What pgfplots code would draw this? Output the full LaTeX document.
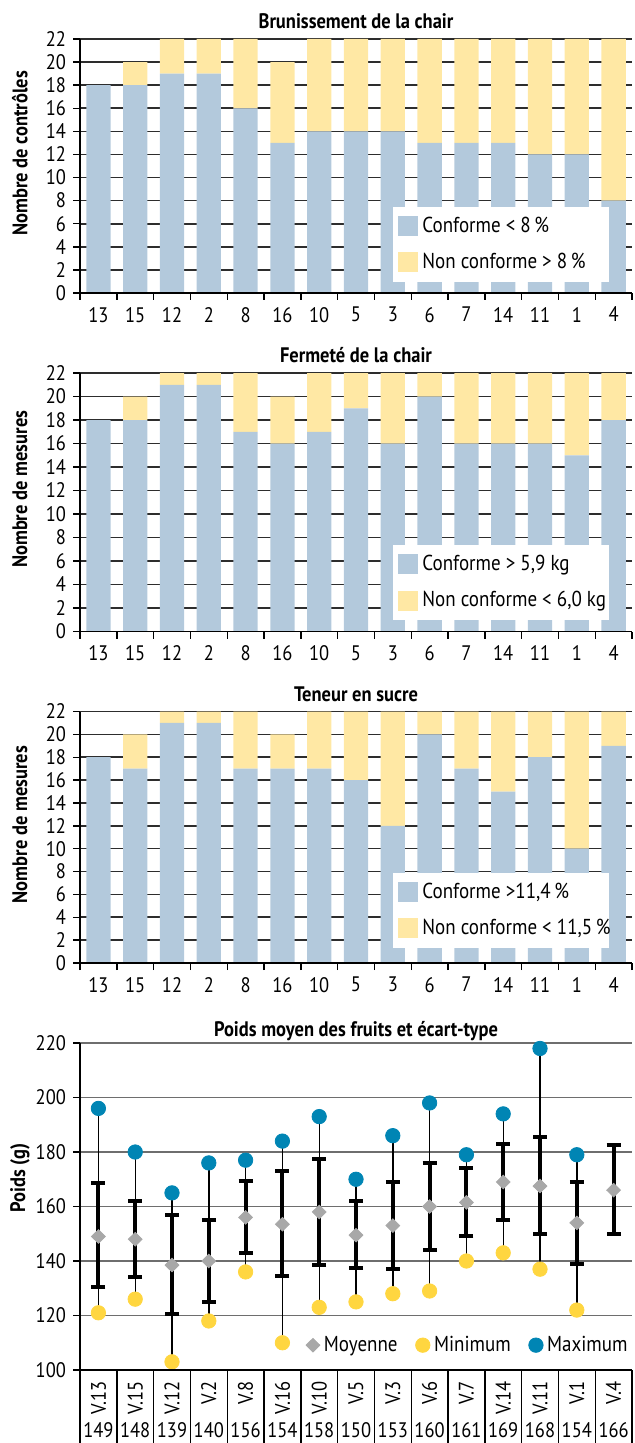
\documentclass[border=0pt]{standalone}
\usepackage{pgfplots}
\pgfplotsset{compat=1.18}
\usepackage{pgfplotstable}
\usepackage{graphicx}
\usepackage{fontspec}
\setmainfont{PT Sans}[FakeStretch=0.88]

\definecolor{conf}{RGB}{179,201,220}
\definecolor{nonconf}{RGB}{255,232,164}
\definecolor{meang}{RGB}{168,168,168}
\definecolor{miny}{RGB}{255,214,64}
\definecolor{maxb}{RGB}{0,133,180}
\definecolor{gridd}{RGB}{45,45,45}
\definecolor{gridg}{RGB}{110,110,110}

\newcommand\tf{\fontsize{10.5}{12}\selectfont}
\newcommand\lf{\fontsize{10.8}{12}\selectfont}

\pgfplotstableread{
x conf nc
0 18 0
1 18 2
2 19 3
3 19 3
4 16 6
5 13 7
6 14 8
7 14 8
8 14 8
9 13 9
10 13 9
11 13 9
12 12 10
13 12 10
14 8 14
}\brun

\pgfplotstableread{
x conf nc
0 18 0
1 18 2
2 21 1
3 21 1
4 17 5
5 16 4
6 17 5
7 19 3
8 16 6
9 20 2
10 16 6
11 16 6
12 16 6
13 15 7
14 18 4
}\ferm

\pgfplotstableread{
x conf nc
0 18 0
1 17 3
2 21 1
3 21 1
4 17 5
5 17 3
6 17 5
7 16 6
8 12 10
9 20 2
10 17 5
11 15 7
12 18 4
13 10 12
14 19 3
}\sucre

\pgfplotstableread{
x mean min max
0 149 121 196
1 148 126 180
2 138.5 103 165
3 140 118 176
4 156 136 177
5 153.5 110 184
6 158 123 193
7 149.5 125 170
8 153 128 186
9 160 129 198
10 161.5 140 179
11 169 143 194
12 167.5 137 218
13 154 122 179
}\wA

\pgfplotstableread{
x mean sdlo sdhi
0 149 130.5 168.5
1 148 134 162
2 138.5 120.5 157
3 140 125 155
4 156 143 169.5
5 153.5 134.5 173
6 158 138.5 177.5
7 149.5 137.5 162
8 153 137 169
9 160 144 176
10 161.5 149 174
11 169 155 183
12 167.5 150 185.5
13 154 139 169
14 166 150 182.5
}\wB

\pgfplotsset{
 common/.style={
   set layers, axis on top,
   scale only axis, width=276pt,
   xmin=-0.5, xmax=14.5,
   xtick={0,...,14},
   minor xtick={-0.5,0.5,...,14.5},
   major x tick style={draw=none},
   tick align=outside,
   major tick length=3.5pt,
   tick style={black, line width=0.7pt},
   axis x line*=bottom, axis y line*=left,
   axis line style={black, line width=0.8pt},
   ymajorgrids,
   /pgf/number format/assume math mode=true,
   tick label style={font=\tf},
   title style={font=\tf\bfseries, at={(axis description cs:0.5,1)}, anchor=base, yshift=-0.75pt},
 },
 barchart/.style={
   common,
   ymin=0, ymax=22,
   ybar stacked, bar width=0.66,
   xticklabels={13,15,12,2,8,16,10,5,3,6,7,14,11,1,4},
   minor tick length=3.5pt,
   ytick={0,2,...,22},
   major grid style={gridd, line width=0.8pt, /pgfplots/on layer=axis background},
   ylabel style={font=\tf\bfseries, at={(axis description cs:-0.109,0.55)}, anchor=center},
   legend style={draw=none, fill=white, font=\lf, anchor=south west, inner xsep=2.5pt, inner ysep=3pt, row sep=5pt},
   legend cell align=left,
   legend image code/.code={\fill[##1] (0pt,-5pt) rectangle (10pt,5pt);},
 },
}

\begin{document}
\begin{tikzpicture}

% Chart 1
\begin{axis}[barchart, at={(40pt,-146.5pt)}, anchor=south west, height=127pt,
  title={Brunissement de la chair}, ylabel={Nombre de contrôles},
  legend style={at={(0.567,0.043)}}]
\addplot[fill=conf, draw=none] table[x=x,y=conf]{\brun};
\addlegendentry{\makebox[89pt][l]{Conforme < 8\,\%}}
\addplot[fill=nonconf, draw=none] table[x=x,y=nc]{\brun};
\addlegendentry{\makebox[89pt][l]{Non conforme > 8\,\%}}
\end{axis}

% Chart 2
\begin{axis}[barchart, at={(40pt,-315.75pt)}, anchor=south west, height=129.25pt,
  title={Fermeté de la chair}, ylabel={Nombre de mesures},
  legend style={at={(0.567,0.044)}}]
\addplot[fill=conf, draw=none] table[x=x,y=conf]{\ferm};
\addlegendentry{\makebox[89pt][l]{Conforme > 5,9 kg}}
\addplot[fill=nonconf, draw=none] table[x=x,y=nc]{\ferm};
\addlegendentry{\makebox[89pt][l]{Non conforme < 6,0 kg}}
\end{axis}

% Chart 3
\begin{axis}[barchart, at={(40pt,-481.5pt)}, anchor=south west, height=125.75pt,
  title={Teneur en sucre}, ylabel={Nombre de mesures},
  legend style={at={(0.567,0.06)}}]
\addplot[fill=conf, draw=none] table[x=x,y=conf]{\sucre};
\addlegendentry{\makebox[89pt][l]{Conforme >11,4\,\%}}
\addplot[fill=nonconf, draw=none] table[x=x,y=nc]{\sucre};
\addlegendentry{\makebox[89pt][l]{Non conforme < 11,5\,\%}}
\end{axis}

% Chart 4
\begin{axis}[common, at={(40pt,-685pt)}, anchor=south west, height=163.5pt,
  ymin=100, ymax=220, ytick={100,120,...,220},
  minor tick length=36.5pt,
  major grid style={gridg, line width=0.8pt, /pgfplots/on layer=axis background},
  title={Poids moyen des fruits et écart-type}, title style={yshift=-1.75pt},
  ylabel={Poids (g)},
  ylabel style={font=\tf\bfseries, at={(axis description cs:-0.109,0.587)}, anchor=center},
  xticklabel style={align=center, anchor=north, inner sep=2pt},
  xticklabels={
    {\rotatebox{90}{\makebox[16pt][r]{V.13}}\\[0pt]149},
    {\rotatebox{90}{\makebox[16pt][r]{V.15}}\\[0pt]148},
    {\rotatebox{90}{\makebox[16pt][r]{V.12}}\\[0pt]139},
    {\rotatebox{90}{\makebox[16pt][r]{V.2}}\\[0pt]140},
    {\rotatebox{90}{\makebox[16pt][r]{V.8}}\\[0pt]156},
    {\rotatebox{90}{\makebox[16pt][r]{V.16}}\\[0pt]154},
    {\rotatebox{90}{\makebox[16pt][r]{V.10}}\\[0pt]158},
    {\rotatebox{90}{\makebox[16pt][r]{V.5}}\\[0pt]150},
    {\rotatebox{90}{\makebox[16pt][r]{V.3}}\\[0pt]153},
    {\rotatebox{90}{\makebox[16pt][r]{V.6}}\\[0pt]160},
    {\rotatebox{90}{\makebox[16pt][r]{V.7}}\\[0pt]161},
    {\rotatebox{90}{\makebox[16pt][r]{V.14}}\\[0pt]169},
    {\rotatebox{90}{\makebox[16pt][r]{V.11}}\\[0pt]168},
    {\rotatebox{90}{\makebox[16pt][r]{V.1}}\\[0pt]154},
    {\rotatebox{90}{\makebox[16pt][r]{V.4}}\\[0pt]166}},
  legend style={at={(axis description cs:1,0.076)}, anchor=east, draw=none, fill=none, font=\lf,
    inner sep=0pt, /tikz/every even column/.append style={column sep=7pt}},
  legend columns=3,
  legend image code/.code={\draw[#1] plot coordinates {(0pt,0pt)};},
  ]
\addplot[forget plot, only marks, mark=none, error bars/.cd, y dir=both, y explicit, error mark=none,
  error bar style={draw=black, line width=0.7pt}]
  table[x=x, y=mean, y error plus expr=\thisrow{max}-\thisrow{mean}, y error minus expr=\thisrow{mean}-\thisrow{min}]{\wA};
\addplot[forget plot, only marks, mark=none, error bars/.cd, y dir=both, y explicit, error mark=-,
  error bar style={draw=black, line width=2pt},
  error mark options={draw=black, line width=2pt, mark size=3.5pt, rotate=90}]
  table[x=x, y=mean, y error plus expr=\thisrow{sdhi}-\thisrow{mean}, y error minus expr=\thisrow{mean}-\thisrow{sdlo}]{\wB};
\addplot[only marks, mark=diamond*, mark size=3.4pt, color=meang, mark options={xscale=1.35}] table[x=x,y=mean]{\wB};
\addlegendentry{Moyenne}
\addplot[only marks, mark=*, mark size=3.6pt, color=miny] table[x=x,y=min]{\wA};
\addlegendentry{Minimum}
\addplot[only marks, mark=*, mark size=3.6pt, color=maxb] table[x=x,y=max]{\wA};
\addlegendentry{Maximum}
\end{axis}

\pgfresetboundingbox
\useasboundingbox (0,0) rectangle (317.5pt,-721.5pt);
\end{tikzpicture}
\end{document}
